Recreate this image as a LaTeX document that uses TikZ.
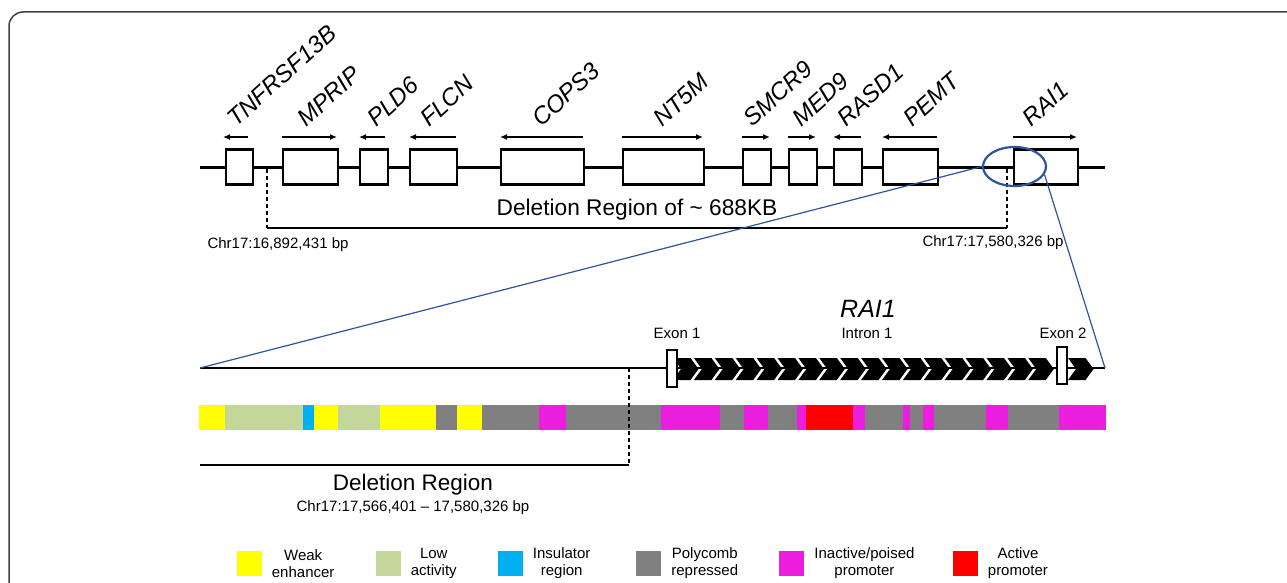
\documentclass[tikz,border=0pt]{standalone}
\usepackage{fontspec}
\setmainfont{Liberation Sans}
\usetikzlibrary{positioning,shapes.geometric,arrows.meta}

\definecolor{amarillo}{HTML}{FFFF00}
\definecolor{verdeclaro}{HTML}{C4D79B}
\definecolor{celeste}{HTML}{00B0F0}
\definecolor{gris}{HTML}{808080}
\definecolor{magentap}{HTML}{EB1EE0}
\definecolor{rojo}{HTML}{FF0000}
\definecolor{azulzoom}{HTML}{2E5597}

\tikzset{
  gen/.style={draw,line width=2.2pt,fill=white,inner sep=0pt,minimum height=35pt,anchor=west},
  nombre/.style={font=\fontsize{24}{26}\selectfont\itshape,rotate=42,anchor=base west,inner sep=0pt},
  sentido/.style={line width=1.4pt,-{Latex[length=7pt,width=6pt]}},
  corte/.style={line width=1.6pt,dash pattern=on 4pt off 3pt},
  titulo/.style={font=\fontsize{22.7}{26}\selectfont,inner sep=0pt},
  posicion/.style={font=\fontsize{15}{17}\selectfont,inner sep=0pt},
  exon/.style={draw,line width=1.8pt,fill=white,inner sep=0pt,minimum width=10pt,minimum height=37pt},
  muestra/.style={inner sep=0pt,minimum width=25pt,minimum height=25pt},
  leyenda/.style={font=\fontsize{15}{17}\selectfont,align=center,inner sep=0pt}
}

\begin{document}
\begin{tikzpicture}[x=1pt,y=-1pt]
  \useasboundingbox (0,0) rectangle (1287,583);
  % Marco
  \draw[line width=1.5pt,black!75,rounded corners=14pt] (9,610) -- (9,12) -- (1310,12);

  % Cromosoma 17p11.2 con los genes
  \coordinate (cr0) at (200,167);
  \coordinate (cr1) at (1105,167);
  \draw[line width=3pt] (cr0) -- (cr1);
  \foreach \nom/\a/\b/\s/\e/\lx in {TNFRSF13B/225/252/248/223/236,
      MPRIP/282/337/282/337/306, PLD6/359/387/385/359/376,
      FLCN/409/456/456/409/429, COPS3/500/583/583/500/541,
      NT5M/622/703/622/703/662, SMCR9/742/770/742/770/752,
      MED9/788/816/788/816/801, RASD1/833/861/861/833/846,
      PEMT/882/937/937/882/912, RAI1/1013/1077/1013/1077/1031} {
    \pgfmathsetmacro\ancho{\b-\a}
    \node[gen,minimum width=\ancho pt] (g\nom) at (\a,167) {};
    \draw[sentido] (\s,137) -- (\e,137);
    \node[nombre] (n\nom) at (\lx,128) {\nom};
  }

  % Region delecionada (arriba)
  \coordinate (dA) at (267,228);
  \coordinate (dB) at (1007,228);
  \draw[corte] (267,169) -- (dA);
  \draw[corte] (1007,169) -- (dB);
  \draw[line width=1.5pt] (dA) -- (dB);
  \node[titulo] (del) at (637,210) {Deletion Region of \textasciitilde\ 688KB};
  \node[posicion] (posA) at (278,245) {Chr17:16,892,431 bp};
  \node[posicion] (posB) at (993,243) {Chr17:17,580,326 bp};

  % Ampliacion de RAI1
  \node[draw=azulzoom,ellipse,line width=2.2pt,minimum width=63pt,minimum height=39pt,inner sep=0pt] (lupa) at (1014.5,166.5) {};
  \coordinate (lin0) at (200,368);
  \coordinate (lin1) at (1105,368);
  \draw[line width=2.4pt] (lin0) -- (lin1);
  \draw[azulzoom,line width=1.2pt] (lupa.west) -- (lin0);
  \draw[azulzoom,line width=1.2pt] (lupa.-15) -- (lin1);

  % Intron 1: flechas
  \foreach \i in {0,...,17} {
    \pgfmathsetmacro\x{673+20.9*\i}
    \fill (\x,358) -- ++(17.5,0) -- ++(8,11) -- ++(-8,11) -- ++(-17.5,0) -- ++(8,-11) -- cycle;
  }
  \fill (1068,358) -- ++(17.5,0) -- ++(8,11) -- ++(-8,11) -- ++(-17.5,0) -- ++(8,-11) -- cycle;
  \node[exon] (ex1) at (672,368.5) {};
  \node[exon] (ex2) at (1062,365.5) {};
  \node[posicion] at (677,333) {Exon 1};
  \node[posicion] at (867,333) {Intron 1};
  \node[posicion] at (1063,333) {Exon 2};
  \node[font=\fontsize{25}{27}\selectfont\itshape,inner sep=0pt] (rai) at (868,309) {RAI1};

  % Estados de cromatina
  \foreach \a/\b/\c in {199/225/amarillo, 225/303/verdeclaro, 303/314/celeste,
      314/338/amarillo, 338/380/verdeclaro, 380/436/amarillo, 436/457/gris,
      457/482/amarillo, 482/539/gris, 539/566/magentap, 566/661/gris,
      661/720/magentap, 720/744/gris, 744/768/magentap, 768/797/gris,
      797/806/magentap, 806/853/rojo, 853/865/magentap, 865/903/gris,
      903/910/magentap, 910/923/gris, 923/934/magentap, 934/986/gris,
      986/1008/magentap, 1008/1059/gris, 1059/1106/magentap} {
    \fill[\c] (\a,405) rectangle (\b,430);
  }

  % Region delecionada (abajo)
  \coordinate (eA) at (629,368);
  \coordinate (eB) at (629,465);
  \coordinate (eC) at (200,465);
  \draw[corte] (eA) -- (eB);
  \draw[line width=1.8pt] (eB) -- (eC);
  \node[titulo,font=\fontsize{22.5}{26}\selectfont] (del2) at (413,485) {Deletion Region};
  \node[posicion] (pos2) at (413,508) {Chr17:17,566,401 -- 17,580,326 bp};

  % Leyenda
  \foreach \c/\t/\x [count=\i] in {amarillo/{Weak\\enhancer}/249,
      verdeclaro/{Low\\activity}/388, celeste/{Insulator\\region}/510,
      gris/{Polycomb\\repressed}/648.5, magentap/{Inactive/poised\\promoter}/791.5,
      rojo/{Active\\promoter}/965} {
    \node[muestra,fill=\c] (m\i) at (\x,563.5) {};
    \node[leyenda,right=10pt of m\i] (t\i) {\t};
  }
\end{tikzpicture}
\end{document}
